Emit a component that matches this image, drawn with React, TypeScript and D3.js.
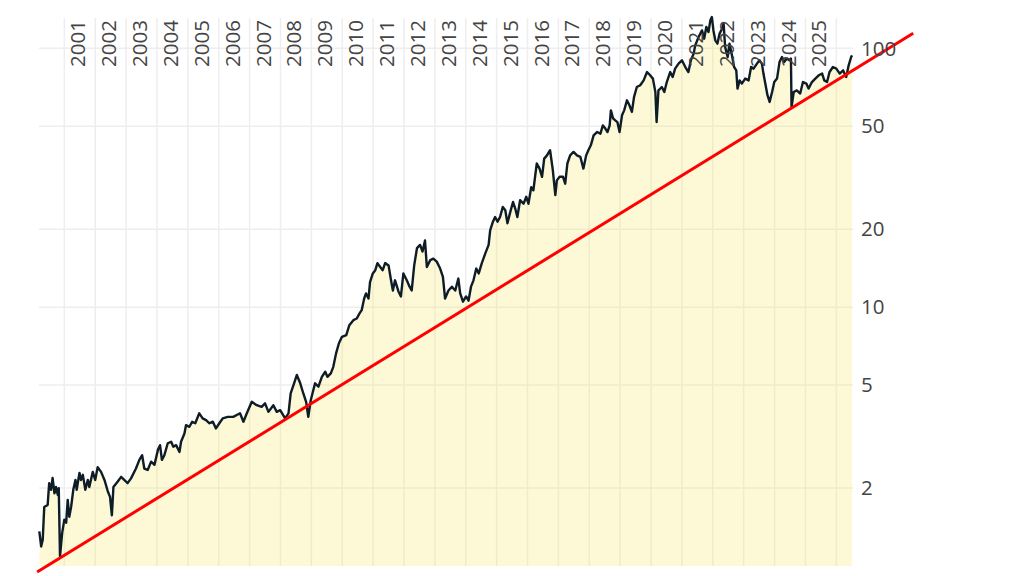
import { useEffect, useRef } from "react";
import * as d3 from "d3";

// price history (decimal year, price)
const years = [
  2000.19, 2000.25, 2000.30, 2000.35, 2000.46, 2000.51, 2000.57, 2000.62, 2000.68, 2000.73,
  2000.79, 2000.82, 2000.86, 2000.93, 2001.00, 2001.06, 2001.11, 2001.16, 2001.22, 2001.29,
  2001.36, 2001.40, 2001.49, 2001.54, 2001.60, 2001.68, 2001.76, 2001.81, 2001.92, 2002.00,
  2002.08, 2002.19, 2002.30, 2002.41, 2002.48, 2002.54, 2002.59, 2002.73, 2002.84, 2002.94,
  2003.05, 2003.16, 2003.32, 2003.43, 2003.52, 2003.59, 2003.70, 2003.81, 2003.92, 2004.03,
  2004.10, 2004.16, 2004.24, 2004.35, 2004.46, 2004.53, 2004.62, 2004.73, 2004.78, 2004.89,
  2004.94, 2005.05, 2005.14, 2005.24, 2005.37, 2005.48, 2005.59, 2005.70, 2005.81, 2005.91,
  2006.02, 2006.13, 2006.29, 2006.47, 2006.69, 2006.80, 2006.91, 2007.07, 2007.23, 2007.39,
  2007.50, 2007.61, 2007.77, 2007.88, 2007.99, 2008.15, 2008.26, 2008.33, 2008.44, 2008.53,
  2008.64, 2008.74, 2008.83, 2008.90, 2008.98, 2009.12, 2009.23, 2009.34, 2009.45, 2009.52,
  2009.63, 2009.71, 2009.80, 2009.89, 2009.99, 2010.13, 2010.23, 2010.36, 2010.47, 2010.56,
  2010.63, 2010.71, 2010.77, 2010.85, 2010.90, 2010.99, 2011.07, 2011.14, 2011.23, 2011.31,
  2011.39, 2011.50, 2011.57, 2011.64, 2011.71, 2011.82, 2011.90, 2011.98, 2012.09, 2012.18,
  2012.25, 2012.33, 2012.42, 2012.52, 2012.60, 2012.68, 2012.74, 2012.85, 2012.95, 2013.06,
  2013.17, 2013.26, 2013.33, 2013.44, 2013.55, 2013.66, 2013.76, 2013.82, 2013.91, 2014.01,
  2014.09, 2014.17, 2014.25, 2014.34, 2014.42, 2014.52, 2014.63, 2014.74, 2014.79, 2014.88,
  2014.95, 2015.03, 2015.11, 2015.20, 2015.28, 2015.35, 2015.44, 2015.53, 2015.60, 2015.67,
  2015.76, 2015.87, 2015.96, 2016.03, 2016.12, 2016.19, 2016.25, 2016.30, 2016.39, 2016.47,
  2016.54, 2016.63, 2016.73, 2016.82, 2016.90, 2016.95, 2017.04, 2017.15, 2017.22, 2017.29,
  2017.38, 2017.49, 2017.60, 2017.71, 2017.81, 2017.90, 2017.97, 2018.05, 2018.14, 2018.25,
  2018.36, 2018.44, 2018.52, 2018.59, 2018.66, 2018.70, 2018.77, 2018.84, 2018.91, 2018.98,
  2019.06, 2019.13, 2019.22, 2019.30, 2019.38, 2019.45, 2019.54, 2019.65, 2019.76, 2019.87,
  2019.97, 2020.06, 2020.14, 2020.18, 2020.24, 2020.35, 2020.43, 2020.51, 2020.62, 2020.70,
  2020.78, 2020.89, 2021.00, 2021.11, 2021.21, 2021.29, 2021.38, 2021.43, 2021.54, 2021.65,
  2021.72, 2021.79, 2021.86, 2021.92, 2021.97, 2022.02, 2022.08, 2022.15, 2022.22, 2022.30,
  2022.35, 2022.40, 2022.48, 2022.54, 2022.62, 2022.69, 2022.76, 2022.80, 2022.87, 2022.94,
  2023.05, 2023.16, 2023.24, 2023.32, 2023.43, 2023.51, 2023.59, 2023.64, 2023.70, 2023.77,
  2023.84, 2023.92, 2023.99, 2024.08, 2024.16, 2024.24, 2024.31, 2024.40, 2024.48, 2024.53,
  2024.55, 2024.62, 2024.72, 2024.83, 2024.92, 2025.03, 2025.10, 2025.21, 2025.32, 2025.43,
  2025.54, 2025.61, 2025.70, 2025.78, 2025.89, 2026.00, 2026.11, 2026.22, 2026.32, 2026.40,
  2026.48, 2026.51,
];

const prices = [
  1.36, 1.19, 1.26, 1.69, 1.72, 2.09, 1.97, 2.19, 1.91, 2.02,
  1.88, 2.00, 1.09, 1.34, 1.51, 1.47, 1.80, 1.55, 1.69, 1.97,
  2.15, 1.97, 2.29, 2.15, 2.25, 1.97, 2.15, 2.02, 2.31, 2.15,
  2.41, 2.31, 2.15, 1.94, 1.85, 1.57, 2.02, 2.12, 2.21, 2.15,
  2.09, 2.18, 2.38, 2.57, 2.68, 2.38, 2.35, 2.53, 2.46, 2.81,
  2.93, 2.57, 2.68, 2.98, 3.02, 2.89, 2.93, 2.76, 3.02, 3.25,
  3.50, 3.45, 3.61, 3.56, 3.89, 3.72, 3.66, 3.56, 3.61, 3.40,
  3.56, 3.72, 3.77, 3.77, 3.89, 3.61, 3.89, 4.31, 4.18, 4.12,
  4.25, 3.94, 4.18, 3.94, 4.00, 3.72, 3.89, 4.64, 5.08, 5.47,
  5.08, 4.64, 4.31, 3.77, 4.37, 5.08, 4.93, 5.38, 5.63, 5.38,
  5.55, 5.88, 6.63, 7.24, 7.68, 7.80, 8.52, 8.91, 9.04, 9.46,
  9.74, 10.8, 11.3, 10.8, 12.5, 13.5, 13.9, 14.8, 14.3, 13.9,
  14.8, 14.5, 12.9, 11.6, 12.7, 11.5, 11.0, 13.5, 12.7, 12.0,
  11.6, 14.5, 16.9, 17.4, 16.4, 18.1, 14.3, 15.2, 15.4, 15.0,
  14.1, 13.1, 10.8, 11.6, 12.0, 11.6, 12.9, 11.3, 10.5, 11.0,
  10.6, 12.0, 12.7, 14.1, 13.5, 14.8, 16.1, 17.4, 19.8, 21.4,
  22.3, 21.4, 22.3, 24.4, 23.7, 21.1, 23.3, 25.5, 24.1, 22.3,
  25.9, 25.1, 26.7, 25.1, 29.1, 28.3, 32.3, 35.9, 34.3, 31.9,
  37.5, 38.6, 40.4, 33.8, 27.1, 30.9, 31.9, 31.9, 30.0, 35.9,
  38.6, 39.8, 38.6, 38.1, 34.3, 38.6, 40.4, 42.2, 46.1, 47.5,
  46.8, 50.4, 49.0, 47.5, 50.4, 57.6, 53.6, 52.7, 51.9, 47.5,
  55.1, 57.6, 63.0, 60.3, 56.8, 64.9, 70.9, 72.0, 75.2, 81.0,
  78.7, 76.4, 67.8, 51.9, 68.8, 70.9, 67.8, 74.1, 81.0, 77.5,
  83.5, 87.3, 89.9, 84.7, 81.0, 89.9, 95.4, 102.7, 110.6, 117.3,
  109.0, 120.9, 115.6, 128.3, 132.1, 117.3, 107.4, 104.3, 114.0, 119.1,
  124.5, 101.2, 92.6, 104.3, 94.0, 84.7, 82.2, 69.9, 75.2, 73.1,
  76.4, 75.2, 84.7, 83.5, 87.3, 89.9, 87.3, 79.9, 73.1, 65.9,
  62.1, 67.8, 74.1, 76.4, 88.5, 92.6, 88.5, 91.3, 89.9, 91.3,
  59.3, 67.8, 68.8, 66.9, 74.1, 73.1, 69.9, 74.1, 76.4, 78.7,
  79.9, 75.2, 74.1, 81.0, 84.7, 83.5, 79.9, 82.2, 77.5, 86.0,
  92.6, 94.0,
];

// exponential trend, two ends in data units
const trendYears = [2000.12, 2028.49];
const trendPrices = [0.948, 114.3];

const yTicks = [2, 5, 10, 20, 50, 100];
const gridYears = d3.range(2001, 2027);
const labelYears = d3.range(2001, 2026);

const FONT = '"Open Sans", verdana, arial, sans-serif';

export default function App() {
  const svgRef = useRef<SVGSVGElement>(null);

  useEffect(() => {
    if (!svgRef.current) return;
    const svg = d3.select(svgRef.current);
    svg.selectAll("*").remove();

    const left = 39, right = 853, top = 18, bottom = 566;

    const x = d3.scaleLinear().domain([2000.18, 2026.54]).range([left, right]);
    const y = d3.scaleLog().domain([1, 131]).range([bottom, top]);

    const data = years.map((yr, i) => ({ yr, v: prices[i] }));

    // grid
    svg.append("g")
      .selectAll("line")
      .data(gridYears)
      .join("line")
      .attr("x1", d => x(d)).attr("x2", d => x(d))
      .attr("y1", top).attr("y2", bottom)
      .attr("stroke", "#eee").attr("stroke-width", 1.5);

    svg.append("g")
      .selectAll("line")
      .data(yTicks)
      .join("line")
      .attr("x1", left).attr("x2", right)
      .attr("y1", d => y(d)).attr("y2", d => y(d))
      .attr("stroke", "#eee").attr("stroke-width", 1.5);

    // filled area under price
    const area = d3.area<{ yr: number; v: number }>()
      .x(d => x(d.yr))
      .y0(bottom)
      .y1(d => y(d.v));

    svg.append("path")
      .datum(data)
      .attr("d", area)
      .attr("fill", "rgba(247, 231, 99, 0.26)");

    const line = d3.line<{ yr: number; v: number }>()
      .x(d => x(d.yr))
      .y(d => y(d.v));

    svg.append("path")
      .datum(data)
      .attr("d", line)
      .attr("fill", "none")
      .attr("stroke", "#0e1c28")
      .attr("stroke-width", 2.4)
      .attr("stroke-linejoin", "round");

    // trend line (not clipped)
    svg.append("line")
      .attr("x1", x(trendYears[0])).attr("y1", y(trendPrices[0]))
      .attr("x2", x(trendYears[1])).attr("y2", y(trendPrices[1]))
      .attr("stroke", "#ff0000")
      .attr("stroke-width", 3);

    // year labels, rotated, centred in each year
    svg.append("g")
      .selectAll("text")
      .data(labelYears)
      .join("text")
      .attr("transform", d => `translate(${x(d + 0.5)},20) rotate(-90)`)
      .attr("text-anchor", "end")
      .attr("dy", "0.27em")
      .style("font-family", FONT)
      .style("font-size", "20.5px")
      .style("fill", "#444")
      .text(d => d);

    // y tick labels on the right
    svg.append("g")
      .selectAll("text")
      .data(yTicks)
      .join("text")
      .attr("x", right + 8)
      .attr("y", d => y(d))
      .attr("dy", "0.35em")
      .style("font-family", FONT)
      .style("font-size", "20.5px")
      .style("fill", "#444")
      .text(d => d);
  }, []);

  return (
    <svg
      ref={svgRef}
      width={1024}
      height={576}
      style={{ position: "fixed", left: 0, top: 0, background: "#fff" }}
    />
  );
}
